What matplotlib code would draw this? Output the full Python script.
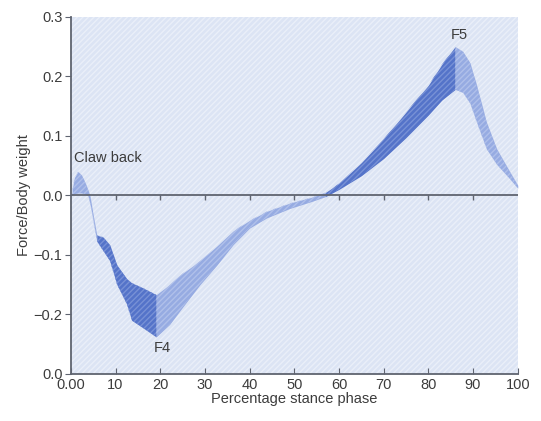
import numpy as np
import matplotlib.pyplot as plt
from matplotlib.patches import Rectangle

plt.rcParams['font.family'] = ['Liberation Sans', 'DejaVu Sans']

# band edges (percentage stance phase vs force/body weight)
pct = [0.3, 0.8, 1.6, 2.4, 3.1, 3.8, 4.3, 5.0, 5.8,
       7.2, 8.7, 10.3, 12.5, 13.6, 16.0, 19.1,
       22.1, 25.0, 28.9, 32.7, 36.3, 40.0, 43.8, 49.0, 54.0, 57.0,
       60.0, 65.0, 70.0, 75.0, 80.0, 83.0, 86.0,
       87.7, 89.3, 90.8, 93.0, 95.3, 98.2, 100.0]
upper = [0.010, 0.030, 0.040, 0.034, 0.023, 0.010, -0.002, -0.033, -0.067,
         -0.070, -0.083, -0.117, -0.140, -0.147, -0.155, -0.167,
         -0.150, -0.131, -0.110, -0.085, -0.060, -0.042, -0.027, -0.013, -0.003, 0.005,
         0.020, 0.055, 0.095, 0.140, 0.185, 0.220, 0.250,
         0.242, 0.223, 0.185, 0.123, 0.078, 0.040, 0.017]
lower = [0.000, 0.003, 0.004, 0.004, 0.002, 0.000, -0.015, -0.043, -0.077,
         -0.093, -0.110, -0.150, -0.183, -0.210, -0.222, -0.238,
         -0.217, -0.188, -0.150, -0.117, -0.083, -0.055, -0.038, -0.022, -0.010, -0.002,
         0.010, 0.033, 0.062, 0.097, 0.135, 0.160, 0.178,
         0.173, 0.155, 0.123, 0.078, 0.052, 0.028, 0.012]
# shading segments: (start pct, end pct, dark?)
segments = [(0.3, 5.8, False), (5.8, 19.1, True), (19.1, 57.0, False),
            (57.0, 86.0, True), (86.0, 100.0, False)]

yticks = [-0.3, -0.2, -0.1, 0.0, 0.1, 0.2, 0.3]
ytick_labels = ['0.0', '\u22120.2', '\u22120.1', '0.0', '0.1', '0.2', '0.3']
xticks = [0, 10, 20, 30, 40, 50, 60, 70, 80, 90, 100]
xtick_labels = ['0.00', '10', '20', '30', '40', '50', '60', '70', '80', '90', '100']

bg = '#dce4f4'
dark = '#5473c9'
light = '#96abe2'
axcol = '#5f6470'
txt = '#3c3c3c'

fig = plt.figure(figsize=(5.41, 4.21), dpi=100)
ax = fig.add_axes([0.131, 0.112, 0.826, 0.848])
ax.set_facecolor(bg)
ax.add_patch(Rectangle((0, 0), 1, 1, transform=ax.transAxes, facecolor='none',
                       edgecolor='#eaeff9', hatch='//////', lw=0, zorder=0))

x = np.array(pct)
up = np.array(upper)
lo = np.array(lower)
for a, b, is_dark in segments:
    m = (x >= a) & (x <= b)
    ax.fill_between(x[m], lo[m], up[m], color=dark if is_dark else light,
                    lw=0, zorder=2)
    ax.fill_between(x[m], lo[m], up[m], facecolor='none',
                    edgecolor='#7891d6' if is_dark else '#b0c0ea',
                    hatch='//////', lw=0, zorder=2)

# zero line with downward ticks
ax.axhline(0, color=axcol, lw=1.3, zorder=3)
ax.vlines(xticks[1:-1], -0.008, 0, color=axcol, lw=1.0, zorder=3)

ax.set_xlim(0, 100)
ax.set_ylim(-0.3, 0.3)
ax.set_xticks(xticks)
ax.set_xticklabels(xtick_labels)
ax.set_yticks(yticks)
ax.set_yticklabels(ytick_labels)

for s in ['top', 'right']:
    ax.spines[s].set_visible(False)
for s in ['left', 'bottom']:
    ax.spines[s].set_color(axcol)
    ax.spines[s].set_linewidth(1.3)
ax.tick_params(axis='x', direction='in', length=4, color=axcol, labelcolor=txt,
               labelsize=10.5, pad=3)
ax.tick_params(axis='y', direction='out', length=4, color=axcol, labelcolor=txt,
               labelsize=10.5, pad=2)

ax.set_xlabel('Percentage stance phase', color=txt, fontsize=10.5, labelpad=0)
ax.set_ylabel('Force/Body weight', color=txt, fontsize=10.5, labelpad=2)

ax.text(0.7, 0.062, 'Claw back', color=txt, fontsize=10.5, ha='left', va='center')
ax.text(20.4, -0.257, 'F4', color=txt, fontsize=10.5, ha='center', va='center')
ax.text(87.0, 0.27, 'F5', color=txt, fontsize=10.5, ha='center', va='center')

fig.savefig('out.png', dpi=100)
